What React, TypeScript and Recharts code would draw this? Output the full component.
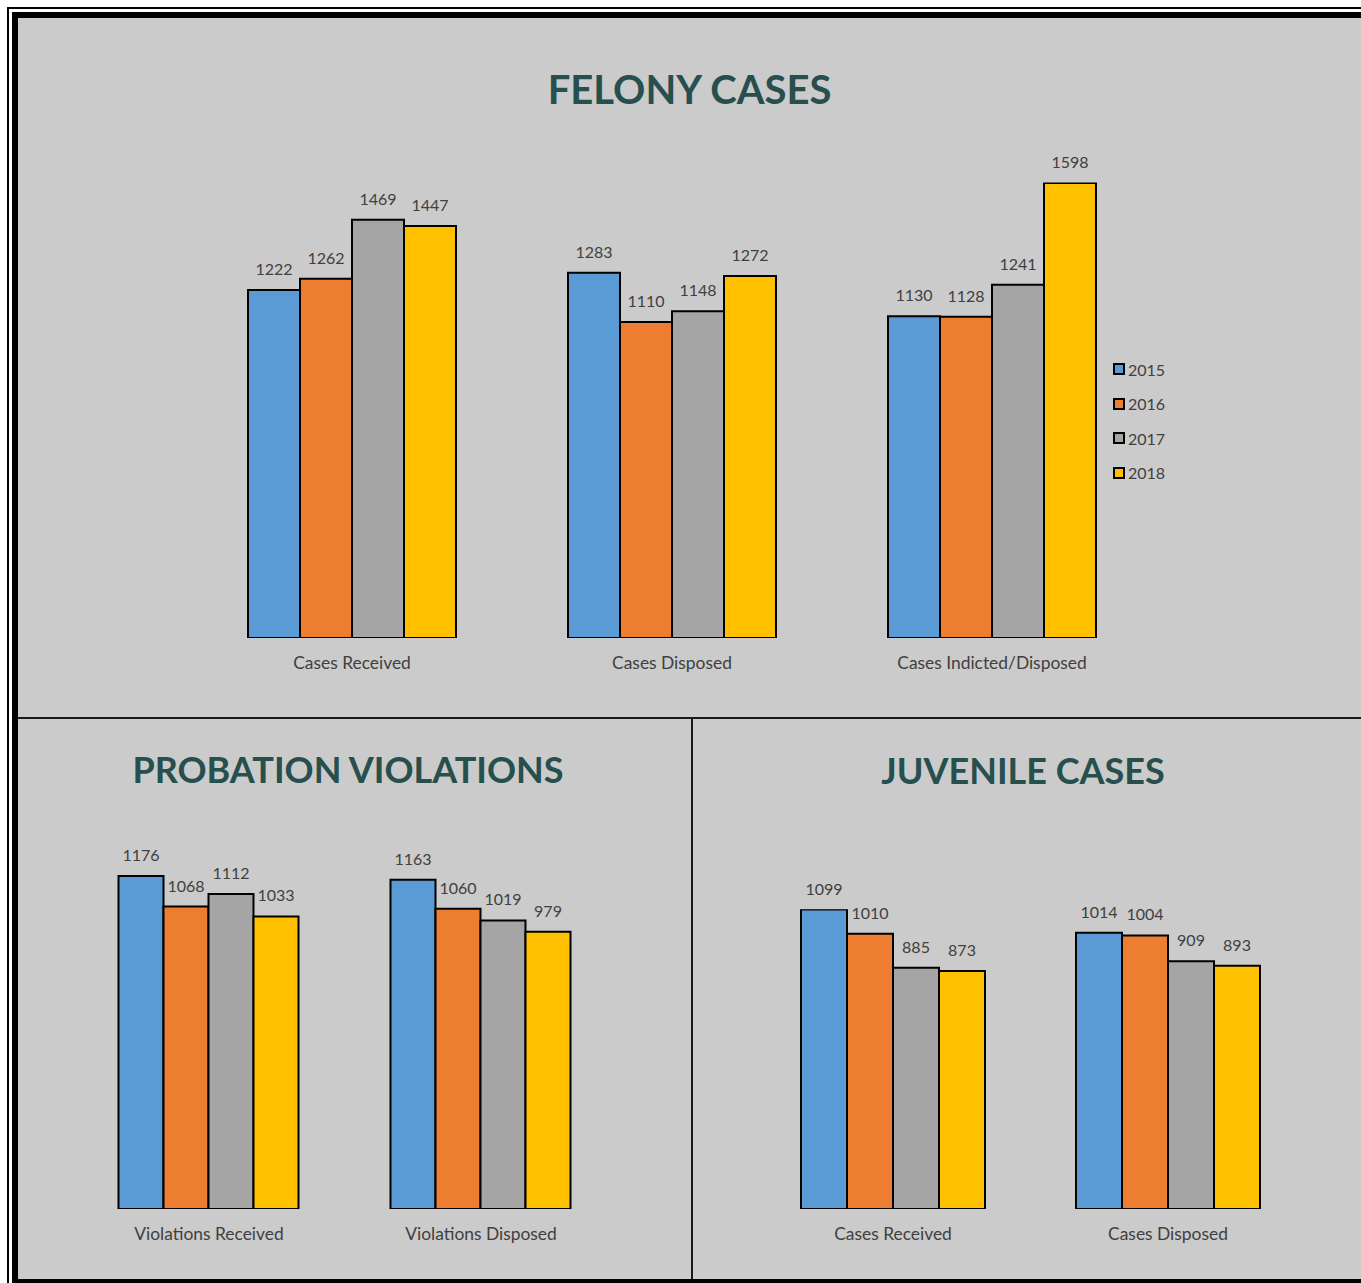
import React from 'react';
import { BarChart, Bar, XAxis, YAxis, LabelList, Legend } from 'recharts';

const years = ['2015', '2016', '2017', '2018'];
const yearColors = ['#5B9BD5', '#ED7D31', '#A5A5A5', '#FFC000'];

const felonyCategories = ['Cases Received', 'Cases Disposed', 'Cases Indicted/Disposed'];
const felony2015 = [1222, 1283, 1130];
const felony2016 = [1262, 1110, 1128];
const felony2017 = [1469, 1148, 1241];
const felony2018 = [1447, 1272, 1598];

const probationCategories = ['Violations Received', 'Violations Disposed'];
const probation2015 = [1176, 1163];
const probation2016 = [1068, 1060];
const probation2017 = [1112, 1019];
const probation2018 = [1033, 979];

const juvenileCategories = ['Cases Received', 'Cases Disposed'];
const juvenile2015 = [1099, 1014];
const juvenile2016 = [1010, 1004];
const juvenile2017 = [885, 909];
const juvenile2018 = [873, 893];

const FONT = 'Lato, "Open Sans", sans-serif';
const TEXT = '#404040';
const TITLE = '#264F4D';

const buildRows = (cats: string[], series: number[][]) =>
  cats.map((name, i) => {
    const row: Record<string, string | number> = { name };
    years.forEach((y, k) => {
      row[y] = series[k][i];
    });
    return row;
  });

const felonyData = buildRows(felonyCategories, [felony2015, felony2016, felony2017, felony2018]);
const probationData = buildRows(probationCategories, [probation2015, probation2016, probation2017, probation2018]);
const juvenileData = buildRows(juvenileCategories, [juvenile2015, juvenile2016, juvenile2017, juvenile2018]);

const CategoryTick = (props: any) => {
  const { x, y, payload } = props;
  return (
    <text x={x} y={y + 31} textAnchor="middle" fill={TEXT} fontSize={17.4} fontFamily={FONT}>
      {payload.value}
    </text>
  );
};

const LegendBox = () => (
  <div style={{ fontFamily: FONT, fontSize: 16, color: TEXT }}>
    {years.map((y, i) => (
      <div key={y} style={{ height: 34.5, display: 'flex', alignItems: 'center' }}>
        <span
          style={{
            width: 8,
            height: 8,
            background: yearColors[i],
            border: '2px solid #000',
            marginRight: 3,
            display: 'inline-block',
          }}
        />
        {y}
      </div>
    ))}
  </div>
);

interface PanelProps {
  data: Record<string, string | number>[];
  left: number;
  top: number;
  width: number;
  height: number;
  margin: { top: number; right: number; bottom: number; left: number };
  domainMax: number;
  gap: number;
  legend?: boolean;
}

const Panel: React.FC<PanelProps> = ({ data, left, top, width, height, margin, domainMax, gap, legend }) => (
  <div style={{ position: 'absolute', left, top, width, height }}>
    <BarChart width={width} height={height} data={data} margin={margin} barCategoryGap={gap} barGap={0}>
      <XAxis
        dataKey="name"
        axisLine={false}
        tickLine={false}
        tickSize={0}
        tickMargin={0}
        height={30}
        interval={0}
        tick={<CategoryTick />}
      />
      <YAxis hide domain={[0, domainMax]} allowDataOverflow />
      {legend && (
        <Legend
          layout="vertical"
          verticalAlign="middle"
          align="center"
          wrapperStyle={{ left: 1095, top: 222, width: 80 }}
          content={<LegendBox />}
        />
      )}
      {years.map((y, i) => (
        <Bar key={y} dataKey={y} fill={yearColors[i]} stroke="#000" strokeWidth={2} isAnimationActive={false}>
          <LabelList dataKey={y} position="top" offset={15} fill={TEXT} fontSize={16} fontFamily={FONT} />
        </Bar>
      ))}
    </BarChart>
  </div>
);

const titleStyle = (left: number, top: number, width: number, size: number): React.CSSProperties => ({
  position: 'absolute',
  left,
  top,
  width,
  textAlign: 'center',
  fontFamily: FONT,
  fontWeight: 700,
  fontSize: size,
  lineHeight: `${size}px`,
  color: TITLE,
  whiteSpace: 'nowrap',
});

export default function App() {
  return (
    <div style={{ position: 'absolute', left: 0, top: 0, width: 1361, height: 1283, background: '#fff', overflow: 'hidden' }}>
      {/* outer thin frame */}
      <div style={{ position: 'absolute', left: 7, top: 7, width: 1400, height: 1300, borderLeft: '2px solid #000', borderTop: '2px solid #000' }} />
      {/* thick frame */}
      <div style={{ position: 'absolute', left: 12, top: 12, width: 1400, height: 1300, background: '#000' }} />
      {/* panel */}
      <div style={{ position: 'absolute', left: 18, top: 18, width: 1343, height: 1261, background: '#CBCBCB' }} />
      {/* dividers */}
      <div style={{ position: 'absolute', left: 18, top: 717, width: 1343, height: 2, background: '#1a1a1a' }} />
      <div style={{ position: 'absolute', left: 691, top: 719, width: 2, height: 560, background: '#1a1a1a' }} />

      <div style={titleStyle(18, 69, 1343, 40)}>FELONY CASES</div>
      <div style={titleStyle(18, 751, 660, 36)}>PROBATION VIOLATIONS</div>
      <div style={titleStyle(693, 752, 660, 36)}>JUVENILE CASES</div>

      <Panel
        data={felonyData}
        left={18}
        top={130}
        width={1343}
        height={570}
        margin={{ top: 52.5, right: 209, bottom: 32, left: 174 }}
        domainMax={1600}
        gap={56}
        legend
      />
      <Panel
        data={probationData}
        left={18}
        top={800}
        width={672}
        height={470}
        margin={{ top: 69.2, right: 73, bottom: 31, left: 55 }}
        domainMax={1200}
        gap={45.5}
      />
      <Panel
        data={juvenileData}
        left={692}
        top={800}
        width={669}
        height={470}
        margin={{ top: 109.25, right: 55.5, bottom: 31, left: 63.5 }}
        domainMax={1100}
        gap={45.5}
      />
    </div>
  );
}
